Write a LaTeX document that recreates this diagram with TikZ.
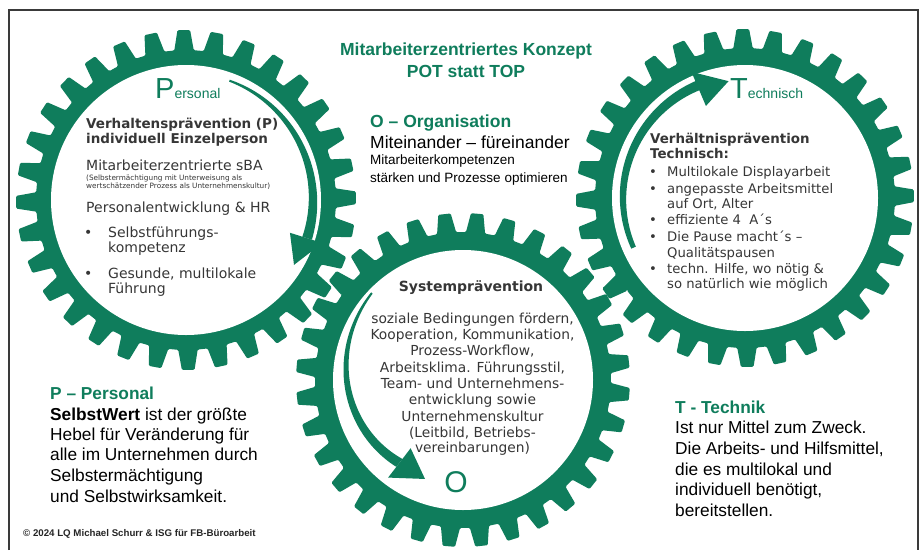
\documentclass[tikz,border=0pt]{standalone}
\usepackage{fontspec}
\setmainfont{Liberation Sans}
\newfontfamily\vfont{DejaVu Sans}
\definecolor{gcol}{HTML}{0F7D5C}
\definecolor{gtxt}{HTML}{363636}
\definecolor{framecol}{HTML}{3A3A3A}
\newcommand\myfs[1]{\fontsize{#1}{#1}\selectfont}
\def\gp{11.25}
\newcommand\drawgear[5]{%
  \begin{scope}[shift={(#1,#2)}]
    \fill[gcol, rounded corners=1.2pt] ({#3-0.33*\gp}:#4)
      \foreach \k in {0,...,31}{
        -- ({#3+\k*\gp-0.33*\gp}:#4) -- ({#3+\k*\gp-0.19*\gp}:#5)
        -- ({#3+\k*\gp+0.19*\gp}:#5) -- ({#3+\k*\gp+0.33*\gp}:#4)} -- cycle;
  \end{scope}}
\tikzset{
  txt/.style={inner sep=0pt, anchor=base west},
  ctxt/.style={inner sep=0pt, anchor=base},
  gbold/.style={txt, text=gtxt, font=\vfont\bfseries\myfs{13.5}},
  gbody/.style={txt, text=gtxt, font=\vfont\myfs{14}},
  gtiny/.style={txt, text=gtxt, font=\vfont\myfs{7.3}},
  rbold/.style={txt, text=gtxt, font=\vfont\bfseries\myfs{13.4}},
  rbody/.style={txt, text=gtxt, font=\vfont\myfs{13.2}},
  mbold/.style={ctxt, text=gtxt, font=\vfont\bfseries\myfs{14}},
  mbody/.style={ctxt, text=gtxt, font=\vfont\myfs{13.8}},
  ghead/.style={txt, text=gcol, font=\bfseries\myfs{17.5}},
  big/.style={txt, text=black, font=\myfs{17.5}},
  small/.style={txt, text=black, font=\myfs{13.5}},
  btxt/.style={txt, text=black, font=\myfs{17.3}},
  bhead/.style={txt, text=gcol, font=\bfseries\myfs{17.3}},
  arr/.style={fill=gcol}
}
\begin{document}
\begin{tikzpicture}[x=1pt,y=-1pt]
\useasboundingbox (0,0) rectangle (922,550);
\fill[white] (0,0) rectangle (922,550);
% frame
\draw[framecol, line width=1.6pt] (9,550) -- (9,10) -- (918,10) -- (918,550);
% gears
\drawgear{186}{200}{33.0}{150}{170}
\drawgear{463}{380}{218.625}{148}{167}
\drawgear{745}{198}{145.5}{150}{169}
\fill[white] (186,200) circle (135);
\fill[white] (463,380) circle (130);
\fill[white] (745,198) circle (133);
% arrows
\begin{scope}[shift={(186,200)}]
  \fill[arr] plot[domain=-70:17.5, samples=60] (\x:{127+(1+4*(\x+70)/87.5)})
    -- plot[domain=17.5:-70, samples=60] (\x:{127-(1+4*(\x+70)/87.5)}) -- cycle;
  \fill[arr] (17.5:109) -- (17.5:143) -- (31:126) -- cycle;
\end{scope}
\begin{scope}[shift={(745,198)}]
  \fill[arr] plot[domain=156:247.5, samples=60] (\x:{122+(2.5+2.5*(\x-156)/91.5)})
    -- plot[domain=247.5:156, samples=60] (\x:{122-(2.5+2.5*(\x-156)/91.5)}) -- cycle;
  \fill[arr] (247:100) -- (247:137) -- (262:118) -- cycle;
\end{scope}
\begin{scope}[shift={(463,380)}]
  \fill[arr] plot[domain=223.7:127.5, samples=60] (\x:{104.5+(\x-127.5)*0.2235+(1+4*(223.7-\x)/96.2)})
    -- plot[domain=127.5:223.7, samples=60] (\x:{104.5+(\x-127.5)*0.2235-(1+4*(223.7-\x)/96.2)}) -- cycle;
  \fill[arr] (127.5:86) -- (127.5:123) -- (111:106) -- cycle;
\end{scope}
% title
\node[ctxt, text=gcol, font=\bfseries\myfs{17.5}] (t1) at (466,55) {Mitarbeiterzentriertes Konzept};
\node[ctxt, text=gcol, font=\bfseries\myfs{17.5}] (t2) at (466,77) {POT statt TOP};
% organisation
\node[ghead] (o1) at (370,127) {O – Organisation};
\node[big] (o2) at (370,148) {Miteinander – füreinander};
\node[small] (o3) at (370,164) {Mitarbeiterkompetenzen};
\node[small] (o4) at (370,182) {stärken und Prozesse optimieren};
% left gear
\node[txt, text=gcol] (pl) at (155,98) {{\myfs{29}P}{\myfs{14}ersonal}};
\node[gbold] (l1) at (86,128) {Verhaltensprävention (P)};
\node[gbold] (l2) at (86,143) {individuell Einzelperson};
\node[gbody] (l3) at (86,170) {Mitarbeiterzentrierte sBA};
\node[gtiny] (l4) at (86,180) {(Selbstermächtigung mit Unterweisung als};
\node[gtiny] (l5) at (86,188) {wertschätzender Prozess als Unternehmenskultur)};
\node[gbody] (l6) at (86,212) {Personalentwicklung \& HR};
\node[gbody] (lb1) at (84,237) {•};
\node[gbody] (l7) at (108,237) {Selbstführungs-};
\node[gbody] (l8) at (108,252) {kompetenz};
\node[gbody] (lb2) at (84,278) {•};
\node[gbody] (l9) at (108,278) {Gesunde, multilokale};
\node[gbody] (l10) at (108,293) {Führung};
% right gear
\node[txt, text=gcol] (tl) at (730,98) {{\myfs{29}T}{\myfs{14}echnisch}};
\node[rbold] (r1) at (650,143) {Verhältnisprävention};
\node[rbold] (r2) at (650,158) {Technisch:};
\node[rbody] (rb1) at (649,176) {•};
\node[rbody] (r3) at (667,176) {Multilokale Displayarbeit};
\node[rbody] (rb2) at (649,193) {•};
\node[rbody] (r4) at (667,193) {angepasste Arbeitsmittel};
\node[rbody] (r5) at (667,208) {auf Ort, Alter};
\node[rbody] (rb3) at (649,224) {•};
\node[rbody] (r6) at (667,224) {effiziente 4~~A´s};
\node[rbody] (rb4) at (649,241) {•};
\node[rbody] (r7) at (667,241) {Die Pause macht´s –};
\node[rbody] (r8) at (667,257) {Qualitätspausen};
\node[rbody] (rb5) at (649,273) {•};
\node[rbody] (r9) at (667,273) {techn. Hilfe, wo nötig \&};
\node[rbody] (r10) at (667,288) {so natürlich wie möglich};
% middle gear
\node[mbold] (m0) at (471,291) {Systemprävention};
\node[mbody] (m1) at (472.5,323) {soziale Bedingungen fördern,};
\node[mbody] (m2) at (472.5,339) {Kooperation, Kommunikation,};
\node[mbody] (m3) at (472.5,355) {Prozess-Workflow,};
\node[mbody] (m4) at (472.5,372) {Arbeitsklima. Führungsstil,};
\node[mbody] (m5) at (472.5,388) {Team- und Unternehmens-};
\node[mbody] (m6) at (472.5,404) {entwicklung sowie};
\node[mbody] (m7) at (472.5,421) {Unternehmenskultur};
\node[mbody] (m8) at (472.5,437) {(Leitbild, Betriebs-};
\node[mbody] (m9) at (472.5,452) {vereinbarungen)};
\node[ctxt, text=gcol, font=\myfs{30}] (mo) at (456,492) {O};
% bottom left
\node[bhead] (b1) at (50,399) {P – Personal};
\node[btxt] (b2) at (50,420) {\textbf{SelbstWert} ist der größte};
\node[btxt] (b3) at (50,440) {Hebel für Veränderung für};
\node[btxt] (b4) at (50,460) {alle im Unternehmen durch};
\node[btxt] (b5) at (50,481) {Selbstermächtigung};
\node[btxt] (b6) at (50,502) {und Selbstwirksamkeit.};
\node[txt, text=black!85, font=\bfseries\myfs{9.7}] (cp) at (23,536) {© 2024 LQ Michael Schurr \& ISG für FB-Büroarbeit};
% bottom right
\node[bhead] (c1) at (675,413) {T - Technik};
\node[btxt] (c2) at (675,433) {Ist nur Mittel zum Zweck.};
\node[btxt] (c3) at (675,454) {Die Arbeits- und Hilfsmittel,};
\node[btxt] (c4) at (675,475) {die es multilokal und};
\node[btxt] (c5) at (675,495) {individuell benötigt,};
\node[btxt] (c6) at (675,516) {bereitstellen.};
\end{tikzpicture}
\end{document}
